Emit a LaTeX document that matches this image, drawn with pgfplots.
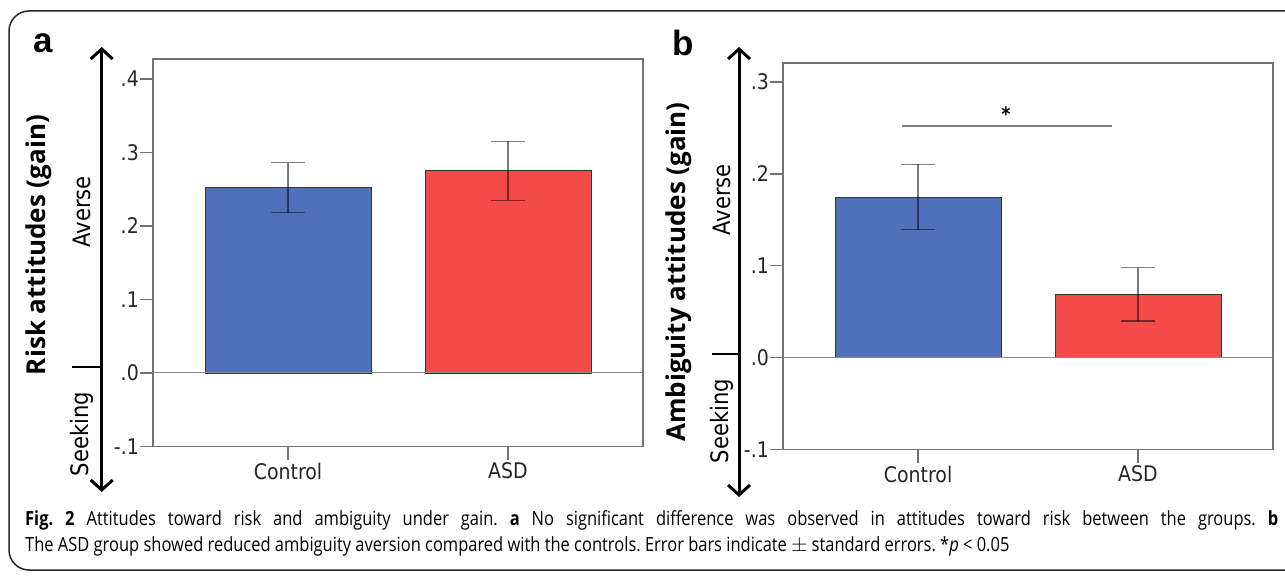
\documentclass[border=0pt]{standalone}
\usepackage{fontspec}
\setmainfont{DejaVu Sans}[FakeStretch=0.88]
\newfontfamily\labfont{Open Sans}
\newfontfamily\panelfont{Liberation Sans}
\newfontfamily\capfont{Open Sans}[FakeStretch=0.845]
\usepackage{pgfplots}
\pgfplotsset{compat=1.18}
\usetikzlibrary{arrows.meta}
\definecolor{barblue}{RGB}{79,112,187}
\definecolor{barred}{RGB}{244,74,72}
\definecolor{axgray}{RGB}{115,115,115}
\pgfplotsset{panel/.style={
  scale only axis, width=490pt,
  xmin=-0.614, xmax=1.614,
  xtick={0,1}, xticklabels={Control,ASD},
  tick align=outside, tick pos=left,
  major tick length=13pt,
  axis line style={axgray, line width=1.2pt},
  tick style={axgray, line width=1.2pt},
  ybar, bar width=166pt, bar shift=0pt,
  ticklabel style={font=\fontsize{21.5}{23}\selectfont, text=black!85},
  yticklabel style={inner sep=1pt},
  xticklabel style={inner sep=3pt},
  clip=false,
}}
\pgfplotsset{ebar/.style={error bars/.cd, y dir=both, y explicit,
  error mark options={rotate=90, mark size=17pt, line width=1.4pt, black, opacity=0.5},
  error bar style={line width=1.4pt, black, opacity=0.5}}}
\begin{document}
\frenchspacing
\begin{tikzpicture}[x=1pt,y=1pt]
\useasboundingbox (0,0) rectangle (1285,576);
% frame
\draw[line width=1.5pt, black!85, rounded corners=20pt] (9,6) rectangle (1330,565);
% ---------- panel a ----------
\begin{axis}[panel, at={(153pt,129.5pt)}, anchor=south west, height=387.5pt,
  ymin=-0.1, ymax=0.4272,
  ytick={-0.1,0,0.1,0.2,0.3,0.4}, yticklabels={-.1,.0,.1,.2,.3,.4}]
\addplot[fill=barblue, draw=black!80, line width=0.8pt, ebar] coordinates {(0,0.252) +- (0,0.034)};
\addplot[fill=barred, draw=black!80, line width=0.8pt, ebar] coordinates {(1,0.275) +- (0,0.040)};
\draw[black!45, line width=1pt] (axis cs:-0.614,0) -- (axis cs:1.614,0);
\end{axis}
% ---------- panel b ----------
\begin{axis}[panel, at={(783pt,126.3pt)}, anchor=south west, height=386.7pt,
  ymin=-0.1, ymax=0.3207,
  ytick={-0.1,0,0.1,0.2,0.3}, yticklabels={-.1,.0,.1,.2,.3}]
\addplot[fill=barblue, draw=black!80, line width=0.8pt, ebar] coordinates {(0,0.175) +- (0,0.0355)};
\addplot[fill=barred, draw=black!80, line width=0.8pt, ebar] coordinates {(1,0.069) +- (0,0.029)};
\draw[black!45, line width=1pt] (axis cs:-0.614,0) -- (axis cs:1.614,0);
\draw[black!50, line width=1.4pt] (axis cs:-0.073,0.252) -- (axis cs:0.882,0.252);
\node[anchor=north, inner sep=0pt, font=\bfseries\fontsize{20}{22}\selectfont] at (axis cs:0.40,0.2737) {*};
\end{axis}
% ---------- annotations panel a ----------
\draw[line width=3pt, {Straight Barb[length=10pt,width=22pt]}-{Straight Barb[length=10pt,width=22pt]}] (101.7,529) -- (101.7,84);
\draw[line width=2.5pt] (72,209) -- (102,209);
\node[rotate=90, font=\labfont\bfseries\fontsize{26}{28}\selectfont] at (39,331) {Risk attitudes (gain)};
\node[rotate=90, font=\fontsize{24}{26}\selectfont] at (82,364) {Averse};
\node[rotate=90, font=\fontsize{24}{26}\selectfont] at (82,142) {Seeking};
\node[font=\panelfont\bfseries\fontsize{35}{37}\selectfont] at (43,533) {a};
% ---------- annotations panel b ----------
\draw[line width=3pt, {Straight Barb[length=10pt,width=22pt]}-{Straight Barb[length=10pt,width=22pt]}] (739,529) -- (739,79);
\draw[line width=2.5pt] (712,222) -- (739,222);
\node[rotate=90, font=\labfont\bfseries\fontsize{26}{28}\selectfont] at (679,304) {Ambiguity attitudes (gain)};
\node[rotate=90, font=\fontsize{24}{26}\selectfont] at (722,376) {Averse};
\node[rotate=90, font=\fontsize{24}{26}\selectfont] at (722,155) {Seeking};
\node[font=\panelfont\bfseries\fontsize{35}{37}\selectfont] at (683,533) {b};
% ---------- caption ----------
\node[anchor=base west, inner sep=0pt, font=\capfont\fontsize{19.5}{21}\selectfont] at (25,51) {\makebox[1253pt][s]{\textbf{Fig. 2} Attitudes toward risk and ambiguity under gain. \textbf{a} No significant difference was observed in attitudes toward risk between the groups. \textbf{b}}};
\node[anchor=base west, inner sep=0pt, font=\capfont\fontsize{19.5}{21}\selectfont] at (25,25) {The ASD group showed reduced ambiguity aversion compared with the controls. Error bars indicate $\pm$ standard errors. *\textit{p} < 0.05};
\end{tikzpicture}
\end{document}
